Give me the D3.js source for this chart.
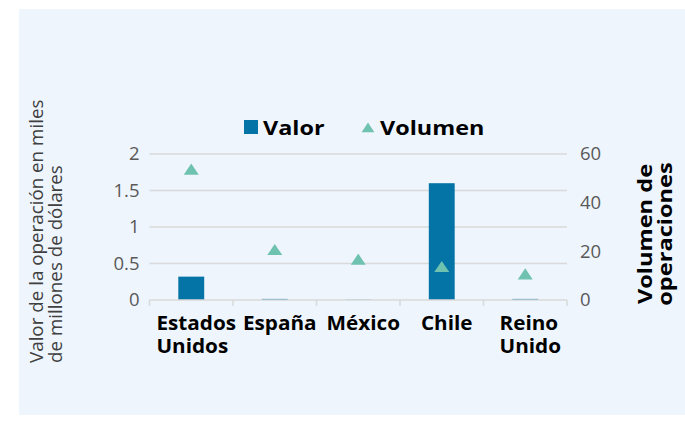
<!DOCTYPE html>
<html>
<head>
<meta charset="utf-8">
<script src="https://cdn.jsdelivr.net/npm/d3@7"></script>
<style>
  html, body { margin: 0; padding: 0; background: #ffffff; }
  svg { display: block; }
  text { font-family: "Open Sans", "Noto Sans", sans-serif; }
</style>
</head>
<body>
<svg id="chart" width="685" height="424"></svg>
<script>
// Transacciones por país de origen
const categories = ["Estados Unidos", "España", "México", "Chile", "Reino Unido"];
const valor = [0.32, 0.015, 0.004, 1.6, 0.015];      // miles de millones de dólares
const volumen = [53, 20, 16, 13, 10];                 // número de operaciones
const leftTicks = [0, 0.5, 1, 1.5, 2];
const rightTicks = [0, 20, 40, 60];

const svg = d3.select("#chart");
const WIDE = 1.09;   // ensanchado horizontal de las etiquetas de categoría

// panel de fondo
svg.append("rect")
  .attr("x", 19).attr("y", 9).attr("width", 666).attr("height", 406)
  .attr("fill", "#eef5fd");

const plot = { left: 149.5, right: 567, top: 154, bottom: 300 };

const x = d3.scaleBand().domain(categories)
  .range([plot.left, plot.right]).paddingInner(0.69).paddingOuter(0.345);
const xOuter = d3.scaleBand().domain(categories).range([plot.left, plot.right]);
const yL = d3.scaleLinear().domain([0, 2]).range([plot.bottom, plot.top]);
const yR = d3.scaleLinear().domain([0, 60]).range([plot.bottom, plot.top]);

// líneas de cuadrícula
svg.append("g").selectAll("line").data(leftTicks.filter(d => d > 0)).join("line")
  .attr("x1", plot.left).attr("x2", plot.right)
  .attr("y1", d => yL(d)).attr("y2", d => yL(d))
  .attr("stroke", "#d9d9d9").attr("stroke-width", 1.5);

// eje izquierdo
const axL = svg.append("g").attr("transform", `translate(${plot.left},0)`)
  .call(d3.axisLeft(yL).tickValues(leftTicks).tickSize(0).tickPadding(10).tickFormat(d3.format("")));
axL.select(".domain").remove();
axL.selectAll("text").attr("fill", "#595959").style("font-size", "18.5px")
  .style("font-family", '"Open Sans", sans-serif');

// eje derecho
const axR = svg.append("g").attr("transform", `translate(${plot.right},0)`)
  .call(d3.axisRight(yR).tickValues(rightTicks).tickSize(0).tickPadding(13));
axR.select(".domain").remove();
axR.selectAll("text").attr("fill", "#595959").style("font-size", "18.5px")
  .style("font-family", '"Open Sans", sans-serif');

// barras de valor
svg.append("g").selectAll("rect").data(categories).join("rect")
  .attr("x", d => x(d)).attr("width", x.bandwidth())
  .attr("y", (d, i) => yL(valor[i]))
  .attr("height", (d, i) => yL(0) - yL(valor[i]))
  .attr("fill", "#0474a6");

// eje de categorías
const bounds = categories.map(d => xOuter(d)).concat([plot.right]);
svg.append("line").attr("x1", plot.left).attr("x2", plot.right)
  .attr("y1", plot.bottom).attr("y2", plot.bottom)
  .attr("stroke", "#d9d9d9").attr("stroke-width", 1.5);
svg.append("g").selectAll("line").data(bounds).join("line")
  .attr("x1", d => d).attr("x2", d => d)
  .attr("y1", plot.bottom).attr("y2", plot.bottom + 6)
  .attr("stroke", "#d9d9d9").attr("stroke-width", 1.5);

// marcadores de volumen
const tri = d3.symbol().type(d3.symbolTriangle).size(80);
svg.append("g").selectAll("path").data(categories).join("path")
  .attr("d", tri)
  .attr("transform", (d, i) => `translate(${xOuter(d) + xOuter.bandwidth() / 2},${yR(volumen[i])}) scale(1.1,0.95)`)
  .attr("fill", "#6fc2b0");

// etiquetas de categoría (líneas alineadas a la izquierda, bloque centrado)
const catG = svg.append("g");
categories.forEach(c => {
  const words = c.split(" ");
  const cx = xOuter(c) + xOuter.bandwidth() / 2 + 5;
  const t = catG.append("text").attr("fill", "#000")
    .style("font-size", "19px").style("font-weight", "700");
  words.forEach((w, i) => {
    t.append("tspan").attr("x", 0).attr("y", i * 23).text(w);
  });
  const wMax = d3.max(t.selectAll("tspan").nodes(), n => n.getComputedTextLength()) * WIDE;
  t.attr("transform", `translate(${cx - wMax / 2},330) scale(${WIDE},1)`);
});

// leyenda
const leg = svg.append("g");
leg.append("rect").attr("x", 244).attr("y", 120).attr("width", 14).attr("height", 14).attr("fill", "#0474a6");
leg.append("text").attr("transform", "translate(263,135) scale(1.17,1)").text("Valor")
  .style("font-size", "20px").style("font-weight", "700").attr("fill", "#000");
leg.append("path").attr("d", d3.symbol().type(d3.symbolTriangle).size(70))
  .attr("transform", "translate(368,129) scale(1,0.9)").attr("fill", "#6fc2b0");
leg.append("text").attr("transform", "translate(380,135) scale(1.17,1)").text("Volumen")
  .style("font-size", "20px").style("font-weight", "700").attr("fill", "#000");

// títulos de ejes
const tl = svg.append("text").attr("transform", "translate(43,363) rotate(-90)")
  .attr("fill", "#404040").style("font-size", "18.8px");
tl.append("tspan").attr("x", 0).attr("y", 0).text("Valor de la operación en miles");
tl.append("tspan").attr("x", 0).attr("y", 19).text("de millones de dólares");

const tr = svg.append("text").attr("transform", "translate(652,234) rotate(-90) scale(1.18,1)")
  .attr("text-anchor", "middle").attr("fill", "#000")
  .style("font-size", "20px").style("font-weight", "700");
tr.append("tspan").attr("x", 0).attr("y", 0).text("Volumen de");
tr.append("tspan").attr("x", 0).attr("y", 20).text("operaciones");
</script>
</body>
</html>
